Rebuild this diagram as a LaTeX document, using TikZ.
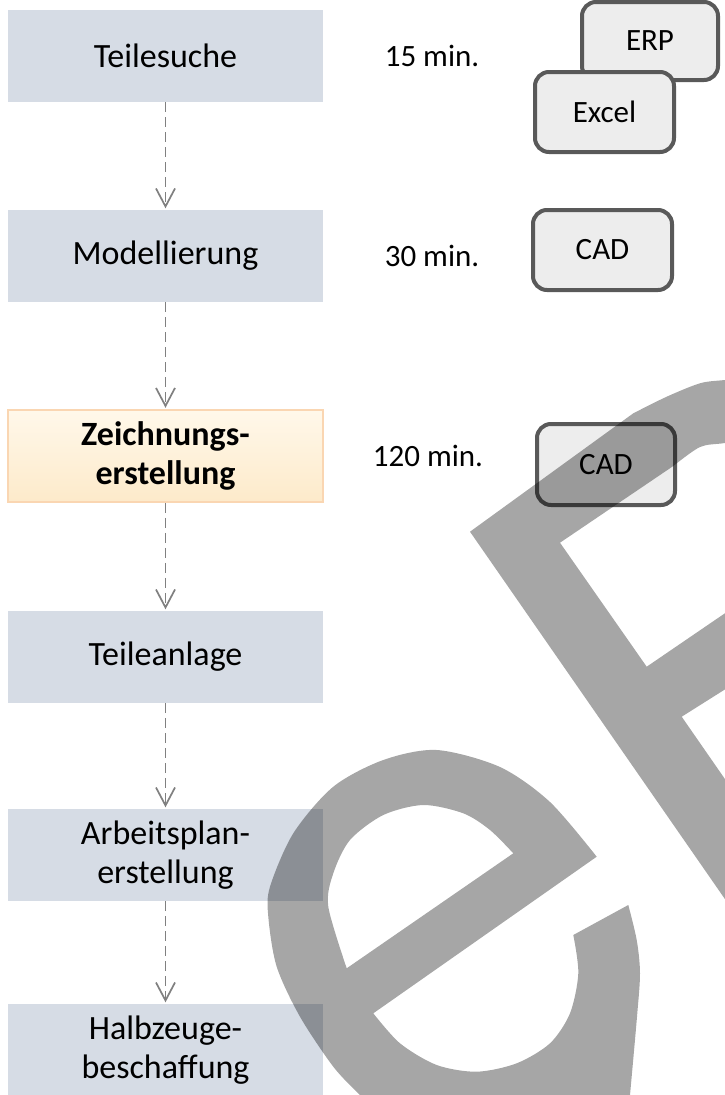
\documentclass[tikz,border=0pt]{standalone}
\usepackage{fontspec}
\setmainfont{Carlito}
\usetikzlibrary{arrows.meta}

\definecolor{stepblue}{RGB}{214,220,229}
\definecolor{hotTop}{RGB}{255,248,234}
\definecolor{hotBot}{RGB}{253,234,202}
\definecolor{hotLine}{RGB}{250,214,178}
\definecolor{toolFill}{RGB}{237,237,237}
\definecolor{toolLine}{RGB}{89,89,89}
\definecolor{flowGray}{RGB}{128,128,128}

\begin{document}
\begin{tikzpicture}[x=1pt,y=-1pt,
  stepbox/.style={fill=stepblue, minimum width=315pt, minimum height=92pt,
    inner sep=0pt, align=center, font=\fontsize{34}{39}\selectfont},
  hotbox/.style={stepbox, top color=hotTop, bottom color=hotBot,
    draw=hotLine, line width=1.5pt, font=\fontsize{34}{39}\selectfont\bfseries},
  toolbox/.style={fill=toolFill, draw=toolLine, line width=4pt,
    rounded corners=14pt, inner sep=0pt, font=\fontsize{31}{36}\selectfont},
  timelabel/.style={font=\fontsize{31}{36}\selectfont, inner sep=0pt},
  flow/.style={draw=flowGray, line width=1.7pt, dash pattern=on 10pt off 5pt,
    -{Straight Barb[length=18pt,width=19pt,line width=1.7pt]}, shorten >=1.5pt},
  wm/.style={fill=black, fill opacity=0.35, even odd rule}
]
\useasboundingbox (0,0) rectangle (725,1095);
\fill[white] (0,0) rectangle (725,1095);

% process steps
\node[stepbox] (s1) at (165.5,56)   {Teilesuche};
\node[stepbox] (s2) at (165.5,256)  {Modellierung};
\node[hotbox]  (s3) at (165.5,456)  {Zeichnungs-\\erstellung};
\node[stepbox] (s4) at (165.5,657)  {Teileanlage};
\node[stepbox] (s5) at (165.5,855)  {Arbeitsplan-\\erstellung};
\node[stepbox] (s6) at (165.5,1050) {Halbzeuge-\\beschaffung};

\draw[flow] (s1.south) -- (s2.north);
\draw[flow] (s2.south) -- (s3.north);
\draw[flow] (s3.south) -- (s4.north);
\draw[flow] (s4.south) -- (s5.north);
\draw[flow] (s5.south) -- (s6.north);

% durations
\node[timelabel] (t1) at (432,56)  {15 min.};
\node[timelabel] (t2) at (432,256) {30 min.};
\node[timelabel] (t3) at (428,456) {120 min.};

% tools
\node[toolbox, minimum width=136pt, minimum height=78pt] (erp)   at (650,41)    {ERP};
\node[toolbox, minimum width=139pt, minimum height=80pt] (excel) at (604.5,112) {Excel};
\node[toolbox, minimum width=139pt, minimum height=80pt] (cad1)  at (602.5,250) {CAD};
\node[toolbox, minimum width=138pt, minimum height=81pt] (cad2)  at (606,464.5) {CAD};

% watermark letters
\begin{scope}
\clip (0,0) rectangle (725,1095);
% letter e
\fill[wm]
  plot[smooth] coordinates {(596.7,856.7) (550,802) (500,767) (436.7,750)
    (383.3,760) (333.3,786.7) (293.3,833.3) (270,886.7) (268.3,916.7)
    (276.7,966.7) (300,1016.7) (333.3,1066.7) (360,1095) (378,1112)}
  -- (627,1125)
  -- plot[smooth] coordinates {(630,1095) (637,1016.7) (640,973.3) (636.7,940) (628.3,905)}
  -- plot[smooth] coordinates {(573.3,935) (578.3,973.3) (570,1013.3) (550,1043.3)
    (516.7,1063.3) (476.7,1071.7) (436.7,1065) (400,1043.3) (373.3,1013.3)}
  -- cycle
  plot[smooth] coordinates {(346.7,968.3) (328.3,906.7) (333.3,873.3) (350,840)
    (383.3,815) (423.3,805) (463.3,813.3) (490,830) (513.3,853.3)}
  -- cycle;
% letter f
\fill[wm]
  (470,531.7) -- (770,964) -- (770,844) -- (681.7,716.7) -- (770,661)
  -- (770,582.5) -- (646.7,666.7) -- (560,542.7) -- (673.3,466)
  -- plot[smooth] coordinates {(673.3,466) (700,447) (725,443) (770,436)}
  -- (770,376)
  -- plot[smooth] coordinates {(770,376) (725,380) (700,383.3) (666.7,396.7) (633.3,413.3)}
  -- cycle;
\end{scope}
\end{tikzpicture}
\end{document}
